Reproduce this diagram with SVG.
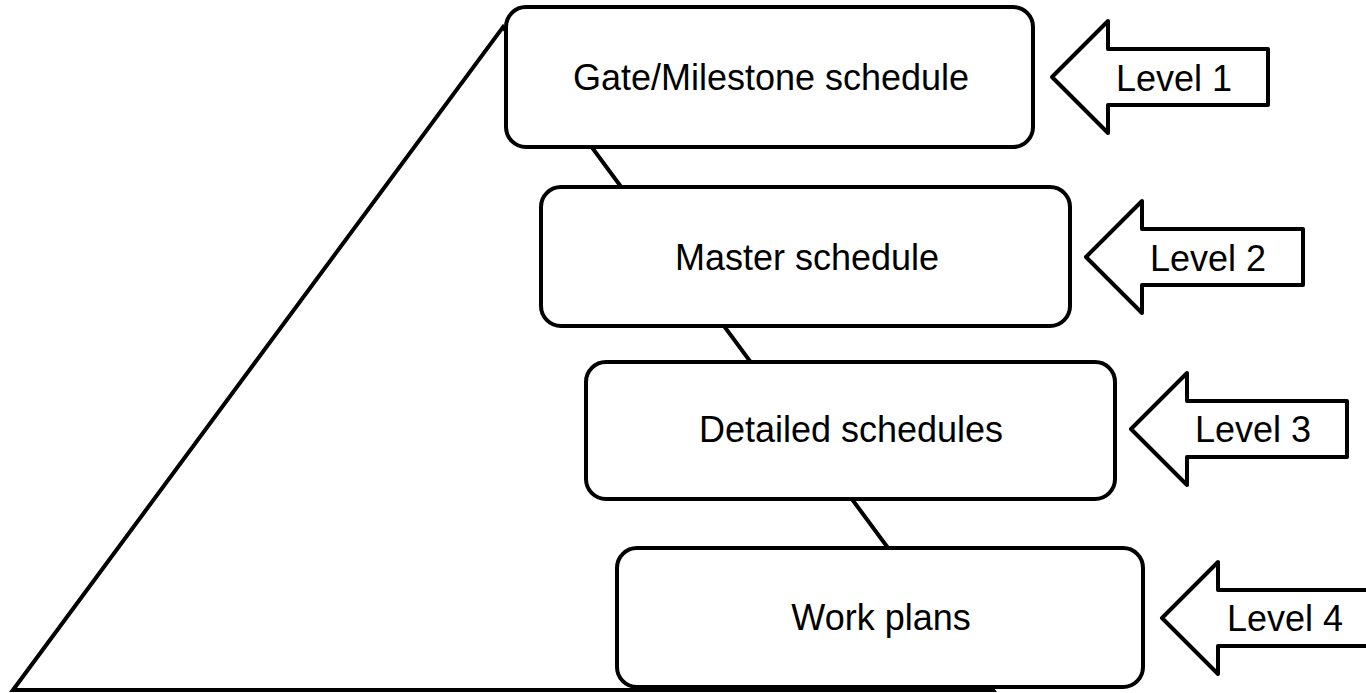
<svg xmlns="http://www.w3.org/2000/svg" width="1366" height="693" viewBox="0 0 1366 693">
<style>
.box{fill:#fff;stroke:#000;stroke-width:4}
.arr{fill:#fff;stroke:#000;stroke-width:4;stroke-linejoin:round}
.edge{fill:none;stroke:#000;stroke-width:4}
text{font-family:"Liberation Sans",Arial,sans-serif;font-size:36px;fill:#000}
.c{text-anchor:middle}
</style>
<rect width="1366" height="693" fill="#fff"/>
<g id="connectors">
<polygon class="edge" points="13,690 503,27 993,690"/>
</g>
<g id="node-level1">
<rect class="box" x="506" y="7" width="527" height="140" rx="20"/>
<text class="c" x="771" y="90">Gate/Milestone schedule</text>
</g>
<g id="node-level2">
<rect class="box" x="541" y="187" width="529" height="139" rx="20"/>
<text class="c" x="807" y="270">Master schedule</text>
</g>
<g id="node-level3">
<rect class="box" x="586" y="362" width="529" height="137" rx="20"/>
<text class="c" x="851" y="442">Detailed schedules</text>
</g>
<g id="node-level4">
<rect class="box" x="617" y="548" width="526" height="139" rx="20"/>
<text class="c" x="881" y="630">Work plans</text>
</g>
<g id="label-level1">
<polygon class="arr" points="1052,77 1108,21 1108,49 1268,49 1268,105 1108,105 1108,133"/>
<text x="1116" y="91">Level 1</text>
</g>
<g id="label-level2">
<polygon class="arr" points="1086,257 1142,201 1142,229 1303,229 1303,285 1142,285 1142,313"/>
<text x="1150" y="271">Level 2</text>
</g>
<g id="label-level3">
<polygon class="arr" points="1131,429 1187,373 1187,401 1347,401 1347,457 1187,457 1187,485"/>
<text x="1195" y="442">Level 3</text>
</g>
<g id="label-level4">
<polygon class="arr" points="1162,618 1218,562 1218,590 1390,590 1390,646 1218,646 1218,674"/>
<text x="1227" y="631">Level 4</text>
</g>
</svg>
